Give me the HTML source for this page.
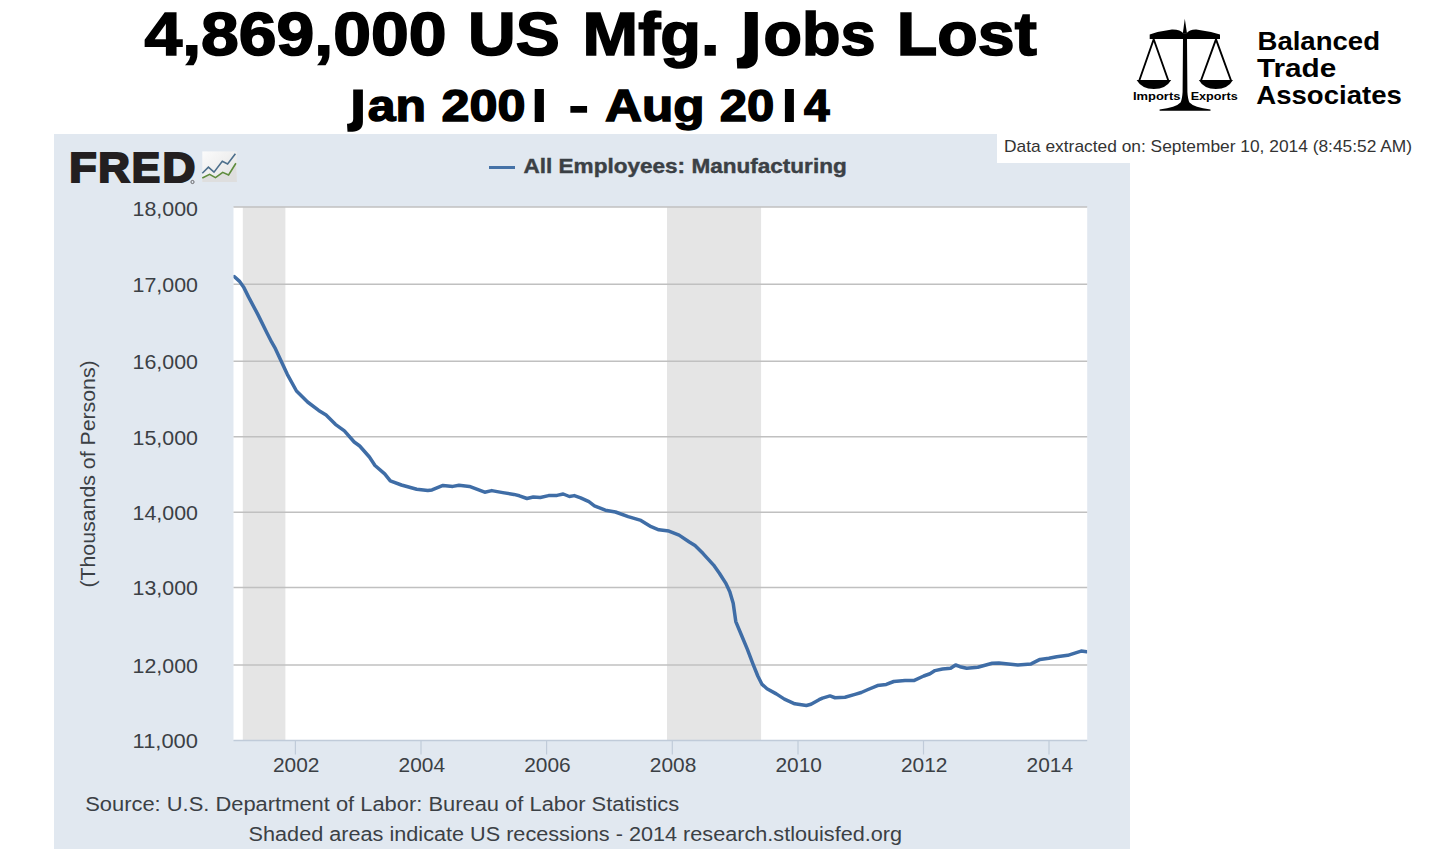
<!DOCTYPE html>
<html><head><meta charset="utf-8">
<style>
html,body{margin:0;padding:0;background:#fff;width:1440px;height:864px;overflow:hidden;font-family:"Liberation Sans",sans-serif;}
svg{position:absolute;left:0;top:0;display:block;}
text{font-family:"Liberation Sans",sans-serif;}
</style></head><body>
<svg width="1440" height="864" viewBox="0 0 1440 864">
  <!-- titles -->
  <g font-weight="bold" fill="#000" stroke="#000" stroke-width="1.6" lengthAdjust="spacingAndGlyphs">
    <text id="t1" x="144.5" y="54.5" font-size="60.5" textLength="302" lengthAdjust="spacingAndGlyphs">4,869,000</text>
    <text id="t2" x="468" y="54.5" font-size="60.5" textLength="91.7" lengthAdjust="spacingAndGlyphs">US</text>
    <text id="t3" x="582.6" y="54.5" font-size="60.5" textLength="137" lengthAdjust="spacingAndGlyphs">Mfg.</text>
    <text id="t4" x="763.5" y="54.5" font-size="60.5" textLength="112" lengthAdjust="spacingAndGlyphs">obs</text>
    <path stroke="none" d="M744.8,11.9 H757.8 V56 C757.8,64.5 752,68.6 744,68.6 H737.2 L736.7,58.2 C740.5,58 744.8,57 744.8,52 Z"/>
    <text id="t5" x="896.8" y="54.5" font-size="60.5" textLength="140" lengthAdjust="spacingAndGlyphs">Lost</text>
  </g>
  <g font-weight="bold" fill="#000" stroke="#000" stroke-width="1.4">
    <text id="s1" x="367.8" y="120.8" font-size="44" textLength="58.3" lengthAdjust="spacingAndGlyphs">an</text>
    <path stroke="none" d="M353.2,89.4 H362.9 V122 C362.9,128.5 358.5,131.7 352.5,131.7 H347.5 L347,123.8 C350,123.7 353.2,123 353.2,119 Z"/>
    <text id="s2" x="441.5" y="120.8" font-size="44" textLength="84" lengthAdjust="spacingAndGlyphs">200</text>
    <rect stroke="none" x="534.7" y="89" width="9.2" height="33"/>
    <text id="s3" x="569" y="120.8" font-size="44" textLength="19.5" lengthAdjust="spacingAndGlyphs">-</text>
    <text id="s4" x="605" y="120.8" font-size="44" textLength="99.5" lengthAdjust="spacingAndGlyphs">Aug</text>
    <text id="s5" x="719.7" y="120.8" font-size="44" textLength="54.5" lengthAdjust="spacingAndGlyphs">20</text>
    <rect stroke="none" x="784.9" y="89" width="9" height="33"/>
    <text id="s6" x="804" y="120.8" font-size="44" textLength="25.6" lengthAdjust="spacingAndGlyphs">4</text>
  </g>
  <!-- logo: scales -->
  <g id="scales" fill="#000">
    <path d="M1184.8,18.8 L1187,33.5 L1182.8,33.5 Z"/>
    <path d="M1149.7,34.5 Q1160,31 1171.9,29.5 Q1180.5,29.3 1183.3,33.3 L1186.5,33.3 Q1189.3,29.3 1196.3,29.5 Q1208,31 1220,34.5 L1220,38.9 L1149.7,38.9 Z"/>
    <path d="M1183,38 L1187,38 L1187.4,92 Q1187.8,99 1189.5,102.5 Q1194,107.5 1210.5,109.6 L1210.5,110.7 L1159.6,110.7 L1159.6,109.6 Q1176,107.5 1180.5,102.5 Q1182.2,99 1182.6,92 Z"/>
    <g stroke="#000" stroke-width="1.9" fill="none">
      <path d="M1139.3,80.5 L1153.7,39.3 L1168.3,80.5"/>
      <path d="M1201,80.5 L1216,39.3 L1231,80.5"/>
    </g>
    <path d="M1136.6,80 L1171.2,80 Q1166,89 1153.9,89 Q1141.8,89 1136.6,80 Z"/>
    <path d="M1198.8,80 L1233,80 Q1228,89 1215.9,89 Q1203.8,89 1198.8,80 Z"/>
    <text id="imp" x="1133" y="99.6" font-weight="bold" font-size="11" textLength="47.4" lengthAdjust="spacingAndGlyphs">Imports</text>
    <text id="exp" x="1190.7" y="99.6" font-weight="bold" font-size="11" textLength="47" lengthAdjust="spacingAndGlyphs">Exports</text>
  </g>
  <g font-weight="bold" font-size="26.5" fill="#000">
    <text id="bta1" x="1257.5" y="49.75" textLength="122.5" lengthAdjust="spacingAndGlyphs">Balanced</text>
    <text id="bta2" x="1257" y="76.9" textLength="79.3" lengthAdjust="spacingAndGlyphs">Trade</text>
    <text id="bta3" x="1256.3" y="104" textLength="145.6" lengthAdjust="spacingAndGlyphs">Associates</text>
  </g>
  <!-- panel -->
  <rect x="54" y="134" width="1076" height="715" fill="#e1e8f0"/>
  <rect x="997" y="134" width="443" height="29" fill="#fff"/>
  <text id="extxt" x="1004" y="152.1" font-size="15.9" fill="#333" textLength="408" lengthAdjust="spacingAndGlyphs">Data extracted on: September 10, 2014 (8:45:52 AM)</text>
  <!-- FRED logo -->
  <g id="fred" font-weight="bold" font-size="42.5" fill="#231f20" stroke="#231f20" stroke-width="2.2">
    <text id="fredF" x="69.2" y="182.3" textLength="27.4" lengthAdjust="spacingAndGlyphs">F</text>
    <text id="fredR" x="98.2" y="182.3" textLength="31.6" lengthAdjust="spacingAndGlyphs">R</text>
    <text id="fredE" x="131.8" y="182.3" textLength="28.4" lengthAdjust="spacingAndGlyphs">E</text>
    <text id="fredD" x="162.4" y="182.3" textLength="32.8" lengthAdjust="spacingAndGlyphs">D</text>
  </g>
  <circle cx="192.5" cy="182" r="1.6" fill="none" stroke="#231f20" stroke-width="0.6"/>
  <defs>
    <linearGradient id="ig" x1="0" y1="0" x2="1" y2="1">
      <stop offset="0" stop-color="#fbfbfb"/>
      <stop offset="1" stop-color="#e2e2e2"/>
    </linearGradient>
  </defs>
  <rect x="202.3" y="151.4" width="34.5" height="30.6" fill="url(#ig)"/>
  <path d="M202.3,178 L209.6,174.4 L215.5,177.6 L222.7,172.3 L228.6,174.9 L235.9,163.3 L236.8,182 L202.3,182 Z" fill="#dedede"/>
  <polyline points="202.3,173.2 208.4,167.2 214,172.2 222.3,161.3 227.6,164 235.4,153.8" fill="none" stroke="#4d6f8c" stroke-width="1.6" stroke-linejoin="miter"/>
  <polyline points="202.3,178 209.6,174.4 215.5,177.6 222.7,172.3 228.6,174.9 235.9,163.3" fill="none" stroke="#5e8c3c" stroke-width="1.6" stroke-linejoin="miter"/>
  <!-- legend -->
  <line x1="489" y1="167.5" x2="515" y2="167.5" stroke="#4572a7" stroke-width="3"/>
  <text id="legend" x="523.5" y="172.6" font-weight="bold" font-size="19.8" fill="#3b4045" stroke="#3b4045" stroke-width="0.4" textLength="323.2" lengthAdjust="spacingAndGlyphs">All Employees: Manufacturing</text>
  <!-- plot area -->
  <rect x="233.5" y="207" width="853.7" height="533" fill="#fff"/>
  <rect x="242.8" y="207" width="42.6" height="533" fill="#e5e5e5"/>
  <rect x="667" y="207" width="94.1" height="533" fill="#e5e5e5"/>
  <g stroke="#c0c0c0" stroke-width="1.5">
    <line x1="233.5" y1="207" x2="1087.2" y2="207"/>
    <line x1="233.5" y1="284.2" x2="1087.2" y2="284.2"/>
    <line x1="233.5" y1="361.2" x2="1087.2" y2="361.2"/>
    <line x1="233.5" y1="436.7" x2="1087.2" y2="436.7"/>
    <line x1="233.5" y1="512.2" x2="1087.2" y2="512.2"/>
    <line x1="233.5" y1="587.4" x2="1087.2" y2="587.4"/>
    <line x1="233.5" y1="664.9" x2="1087.2" y2="664.9"/>
  </g>
  <line x1="233.5" y1="740.5" x2="1087.2" y2="740.5" stroke="#c0cbd9" stroke-width="1.5"/>
  <g stroke="#c0cbd9" stroke-width="1.2">
    <line x1="295.4" y1="741" x2="295.4" y2="754.5"/>
    <line x1="421" y1="741" x2="421" y2="754.5"/>
    <line x1="546.6" y1="741" x2="546.6" y2="754.5"/>
    <line x1="672.3" y1="741" x2="672.3" y2="754.5"/>
    <line x1="798" y1="741" x2="798" y2="754.5"/>
    <line x1="923.5" y1="741" x2="923.5" y2="754.5"/>
    <line x1="1049" y1="741" x2="1049" y2="754.5"/>
  </g>
  <clipPath id="pc"><rect x="233.5" y="150" width="853.6" height="600"/></clipPath>
  <polyline clip-path="url(#pc)" fill="none" stroke="#3f6da6" stroke-width="3.5" stroke-linejoin="round" stroke-linecap="round" points="234.2,276.5 239.3,281.1 243.9,287.6 248.5,296.9 257.8,314.4 267,333 271.7,342.2 275.4,348.7 287.3,374.3 296.5,391 307.6,402 318.7,410.4 326.1,415 335.4,424.3 344.4,430.8 354.2,442 359.7,446 369.4,457 375,465.5 384.7,473.9 390.3,480.8 401.4,485 416.7,489.2 427.8,490.6 432,489.9 443,485.4 452.8,486.4 459,485.3 469.4,486.4 484.7,492.2 491.7,490.6 502.8,492.6 513.9,494.4 519.4,495.8 527,498.5 533.3,497 540.3,497.5 548.6,495.6 557,495.4 563.2,494 569.4,496.5 574.3,495.6 580.6,497.8 588.9,501.7 594.4,505.8 605.3,510.2 615.5,512 628.2,516.6 640.9,520.4 651.1,526.7 658.8,529.8 668.9,531.1 679.1,535.1 689.3,542 695,545.5 703.1,553.6 713.6,565.1 719.4,573.2 725.7,583.1 729.8,591.8 733.2,603.3 735.8,621.6 741.6,635.5 747.4,649.4 753.1,664.4 757.8,676 761.8,684.1 767,688.7 776.3,693.9 784.4,699.1 794.8,703.8 806.4,705.5 811,704.3 819.1,699.7 822.5,698.1 830,695.9 835,697.75 845,697.25 855,694.4 861.25,692.5 867.5,689.75 877.5,685.6 886.25,684.4 893.75,681.5 905,680.6 913.75,680.6 923.75,676 930,673.75 935,670.6 942.5,669 950.6,668.3 955.6,665 960,666.7 966.7,668.3 977.8,667.2 992.2,663.3 998.9,663.1 1017.8,665 1031.1,663.9 1040,659.4 1048.9,658.3 1056.7,656.7 1067.8,655.3 1081.1,651.1 1086.7,651.7"/>
  <g font-size="19.5" fill="#3b4045">
    <text x="132.6" y="216" textLength="65.4" lengthAdjust="spacingAndGlyphs">18,000</text>
    <text x="132.6" y="292.2" textLength="65.4" lengthAdjust="spacingAndGlyphs">17,000</text>
    <text x="132.6" y="369.2" textLength="65.4" lengthAdjust="spacingAndGlyphs">16,000</text>
    <text x="132.6" y="444.7" textLength="65.4" lengthAdjust="spacingAndGlyphs">15,000</text>
    <text x="132.6" y="520.2" textLength="65.4" lengthAdjust="spacingAndGlyphs">14,000</text>
    <text x="132.6" y="595.4" textLength="65.4" lengthAdjust="spacingAndGlyphs">13,000</text>
    <text x="132.6" y="672.9" textLength="65.4" lengthAdjust="spacingAndGlyphs">12,000</text>
    <text x="132.6" y="748.2" textLength="65.4" lengthAdjust="spacingAndGlyphs">11,000</text>
  </g>
  <g font-size="19.5" fill="#3b4045">
    <text x="273" y="771.5" textLength="46.5" lengthAdjust="spacingAndGlyphs">2002</text>
    <text x="398.6" y="771.5" textLength="46.5" lengthAdjust="spacingAndGlyphs">2004</text>
    <text x="524.2" y="771.5" textLength="46.5" lengthAdjust="spacingAndGlyphs">2006</text>
    <text x="649.8" y="771.5" textLength="46.5" lengthAdjust="spacingAndGlyphs">2008</text>
    <text x="775.4" y="771.5" textLength="46.5" lengthAdjust="spacingAndGlyphs">2010</text>
    <text x="901" y="771.5" textLength="46.5" lengthAdjust="spacingAndGlyphs">2012</text>
    <text x="1026.6" y="771.5" textLength="46.5" lengthAdjust="spacingAndGlyphs">2014</text>
  </g>
  <text id="ytitle" transform="translate(94.8,587.6) rotate(-90)" font-size="19.9" fill="#3b4045" textLength="227.3" lengthAdjust="spacingAndGlyphs">(Thousands of Persons)</text>
  <text id="src" x="85.2" y="810.6" font-size="19.4" fill="#3b4045" textLength="594" lengthAdjust="spacingAndGlyphs">Source: U.S. Department of Labor: Bureau of Labor Statistics</text>
  <text id="shaded" x="248.6" y="840.9" font-size="19.6" fill="#3b4045" textLength="653.5" lengthAdjust="spacingAndGlyphs">Shaded areas indicate US recessions - 2014 research.stlouisfed.org</text>
</svg>
</body></html>
